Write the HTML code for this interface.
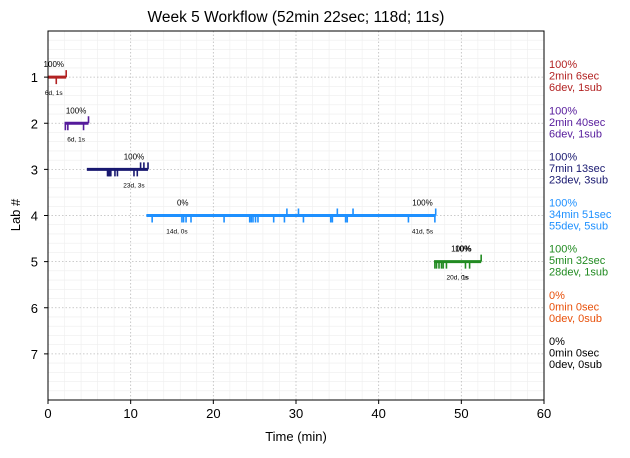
<!DOCTYPE html>
<html><head><meta charset="utf-8"><style>
body{margin:0;background:#fff;font-family:"Liberation Sans",sans-serif}
svg text{font-family:"Liberation Sans",sans-serif}
</style></head><body>
<svg id="c" width="630" height="453" xmlns="http://www.w3.org/2000/svg"></svg>
<script>
const labs=[1,2,3,4,5,6,7];
const colors=["#b22222","#551a9b","#191970","#1e90ff","#228b22","#e8500a","#000000"];
const spans=[[0,2.2],[2.0,4.9],[4.7,12.1],[11.9,46.9],[46.7,52.4],null,null];
const devTicks=[[1.0],[2.1,2.4,4.3],[7.2,7.3,7.4,7.5,7.6,8.1,8.4,10.4,10.8],
[12.6,16.2,16.4,16.7,17.3,21.3,24.4,24.6,24.8,25.1,25.4,27.3,28.6,30.9,34.2,34.4,36.0,36.2,43.6,46.8],
[46.8,47.0,47.3,47.6,47.8,48.2,50.5,51.0],[],[]];
const subTicks=[[2.2],[4.9],[11.2,11.6,12.1],[28.9,30.3,35.0,36.9,46.9],[52.4],[],[]];
const topLabels=[[[0.7,"100%"]],[[3.4,"100%"]],[[10.4,"100%"]],[[16.3,"0%"],[45.3,"100%"]],[[50.0,"100%"],[50.2,"10%"]],[],[]];
const botLabels=[[[0.7,"6d, 1s"]],[[3.4,"6d, 1s"]],[[10.4,"23d, 3s"]],[[15.6,"14d, 0s"],[45.3,"41d, 5s"]],[[49.5,"20d, 0s"],[50.5,"1s"]],[],[]];
const rightText=[["100%","2min 6sec","6dev, 1sub"],["100%","2min 40sec","6dev, 1sub"],["100%","7min 13sec","23dev, 3sub"],["100%","34min 51sec","55dev, 5sub"],["100%","5min 32sec","28dev, 1sub"],["0%","0min 0sec","0dev, 0sub"],["0%","0min 0sec","0dev, 0sub"]];
const xTicks=[0,10,20,30,40,50,60];

const L=48,R=544,T=31,B=400;
const x=t=>L+t*(R-L)/60;
const y=l=>T+l*(B-T)/8;
const svg=document.getElementById('c');
const NS="http://www.w3.org/2000/svg";
function mk(tag,a,parent){const e=document.createElementNS(NS,tag);for(const k in a)e.setAttribute(k,a[k]);(parent||svg).appendChild(e);return e;}
// minor grid
for(let t=0;t<=60;t+=2){if(t%10==0)continue;const e=mk('line',{x1:x(t),x2:x(t),y1:T,y2:B,stroke:'#eee','stroke-width':0.6});

}
for(let l=0.2;l<8;l+=0.2){if(Math.abs(l-Math.round(l))<0.01)continue;const e=mk('line',{x1:L,x2:R,y1:y(l),y2:y(l),stroke:'#eee','stroke-width':0.6});

}
// major grid + ticks
xTicks.forEach(t=>{const g=mk('line',{x1:x(t),x2:x(t),y1:T,y2:B,stroke:'#bbb','stroke-dasharray':'1.5,2','stroke-width':0.8});


mk('line',{x1:x(t),x2:x(t),y1:B,y2:B+4,stroke:'#000'});
const tx=mk('text',{x:x(t),y:B+18,'text-anchor':'middle','font-size':13});tx.textContent=t;

});
labs.forEach(l=>{const g=mk('line',{x1:L,x2:R,y1:y(l),y2:y(l),stroke:'#bbb','stroke-dasharray':'1.5,2','stroke-width':0.8});


mk('line',{x1:L-4,x2:L,y1:y(l),y2:y(l),stroke:'#000'});
const tx=mk('text',{x:L-10,y:y(l)+5,'text-anchor':'end','font-size':13});tx.textContent=l;

});
// series
labs.forEach((l,i)=>{const c=colors[i],yy=y(l);
if(spans[i]){const ln=mk('line',{x1:x(spans[i][0]),x2:x(spans[i][1]),y1:yy,y2:yy,stroke:c,'stroke-width':3});

}
devTicks[i].forEach(t=>{const e=mk('line',{x1:x(t),x2:x(t),y1:yy,y2:yy+7,stroke:c,'stroke-width':1.6});

});
subTicks[i].forEach(t=>{const e=mk('line',{x1:x(t),x2:x(t),y1:yy-7,y2:yy,stroke:c,'stroke-width':1.6});

});
topLabels[i].forEach(([t,s])=>{const e=mk('text',{x:x(t),y:yy-10,'text-anchor':'middle','font-size':8});e.textContent=s;

});
botLabels[i].forEach(([t,s])=>{const e=mk('text',{x:x(t),y:yy+18,'text-anchor':'middle','font-size':6.5});e.textContent=s;

});
rightText[i].forEach((s,k)=>{const e=mk('text',{x:549,y:yy-9+k*11.5,'font-size':11,fill:c});e.textContent=s;

});
});
// frame
const fr=mk('rect',{x:L,y:T,width:R-L,height:B-T,fill:'none',stroke:'#000','stroke-width':1});


const ti=mk('text',{x:296,y:22,'text-anchor':'middle','font-size':15.5});ti.textContent="Week 5 Workflow (52min 22sec; 118d; 11s)";


const xt=mk('text',{x:296,y:441,'text-anchor':'middle','font-size':13});xt.textContent="Time (min)";


const yt=mk('text',{x:20,y:215,'text-anchor':'middle','font-size':13,transform:'rotate(-90 20 215)'});yt.textContent="Lab #";


</script>
</body></html>
